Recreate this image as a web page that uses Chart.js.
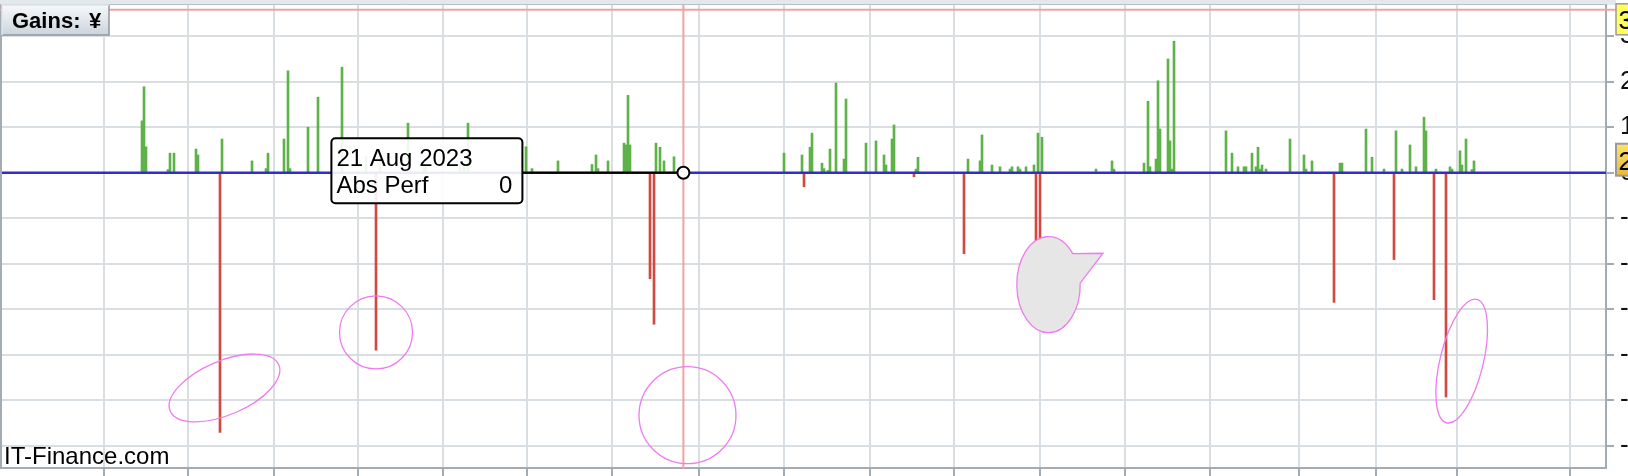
<!DOCTYPE html>
<html>
<head>
<meta charset="utf-8">
<script src="https://cdn.jsdelivr.net/npm/chart.js@4.4.1/dist/chart.umd.min.js"></script>
<style>
	html, body { margin: 0; padding: 0; background: #fff; overflow: hidden; }
	canvas { display: block; }
</style>
</head>
<body>
<canvas id="gains" width="1628" height="476"></canvas>
<script>
// Session index of each gain / loss day (0 = first session on the left edge)
var gainDays = [70, 71, 72, 83, 84, 86, 97, 98, 110, 125,
	132, 133, 141, 143, 144, 153, 158, 170, 182, 189,
	203, 211, 212, 229, 231, 233, 262, 265, 278, 295,
	297, 298, 303, 311, 312, 313, 314, 327, 329, 331,
	336, 391, 400, 404, 405, 410, 411, 413, 414, 417,
	421, 422, 432, 437, 441, 442, 445, 446, 457, 458,
	483, 489, 490, 495, 499, 504, 505, 508, 509, 512,
	516, 518, 520, 547, 555, 556, 571, 573, 574, 577,
	578, 579, 583, 584, 585, 586, 612, 615, 618, 621,
	622, 625, 627, 628, 629, 630, 632, 644, 651, 652,
	655, 669, 670, 682, 685, 691, 697, 700, 704, 707,
	711, 712, 717, 724, 725, 729, 730, 732, 735, 736];
var gainValues = [1.14, 1.89, 0.57, 0.07, 0.43, 0.43, 0.52, 0.39, 0.74, 0.26,
	0.09, 0.43, 0.74, 2.24, 0.09, 1.0, 1.66, 2.32, 0.35, 0.25,
	1.09, 0.2, 0.15, 0.2, 0.15, 1.09, 0.57, 0.09, 0.26, 0.18,
	0.39, 0.09, 0.26, 0.65, 0.61, 1.7, 0.61, 0.65, 0.56, 0.26,
	0.35, 0.43, 0.39, 0.56, 0.87, 0.21, 0.09, 0.05, 0.52, 1.97,
	0.3, 1.62, 0.65, 0.7, 0.39, 0.17, 0.74, 1.05, 0.08, 0.34,
	0.3, 0.26, 0.83, 0.17, 0.13, 0.08, 0.13, 0.13, 0.08, 0.13,
	0.17, 0.87, 0.78, 0.08, 0.26, 0.08, 0.21, 1.57, 0.13, 0.3,
	2.02, 0.96, 2.5, 0.7, 0.08, 2.89, 0.92, 0.43, 0.13, 0.13,
	0.13, 0.43, 0.13, 0.56, 0.08, 0.17, 0.08, 0.74, 0.39, 0.08,
	0.26, 0.21, 0.21, 0.96, 0.34, 0.08, 0.92, 0.08, 0.61, 0.13,
	1.22, 0.92, 0.08, 0.13, 0.08, 0.48, 0.17, 0.74, 0.07, 0.26];

var lossDays = [109, 187, 324, 326, 401, 456, 481, 517, 519, 666, 696, 716, 722];
var lossValues = [-5.71, -3.9, -2.33, -3.33, -0.31, -0.09, -1.78, -2.5, -2.3, -2.85, -1.91, -2.79, -4.93];

// Vertical grid lines (two-month boundaries) and value ticks
var gridDays = [51, 93, 136, 178, 220.5, 262.5, 305, 348.5, 391, 434, 476, 519, 561.5, 604, 648.5, 687, 727.5, 784];
var valueTicks = [-6, -5, -4, -3, -2, -1, 0, 1, 2, 3];

// Hovered session and crosshair value
var hoverDay = 340.7;
var hoverDate = '21 Aug 2023';
var hoverPerf = 0;
var crossValue = 3.58;

// Hand-drawn marks on the chart (centre in data units, radii in px)
var marks = [
	{ kind: 'ellipse', day: 111.25, value: -4.73, rx: 59, ry: 27, angle: -23 },
	{ kind: 'ellipse', day: 187, value: -3.51, rx: 36.5, ry: 36.5, angle: 0 },
	{ kind: 'ellipse', day: 342.75, value: -5.33, rx: 48.5, ry: 48.5, angle: 0 },
	{ kind: 'bubble', day: 523.25, value: -2.46, rx: 31.7, ry: 48, angle: 0 },
	{ kind: 'ellipse', day: 729.85, value: -4.14, rx: 21.6, ry: 63.5, angle: 13.7 }
];

var FONT = "'Liberation Sans', Arial, Helvetica, sans-serif";
Chart.defaults.font.family = FONT;

function toPoints(days, values) {
	var pts = [];
	for (var i = 0; i < days.length; i++) {
		pts.push({ x: days[i], y: values[i] });
	}
	return pts;
}

// no extra room for the labels: the plot runs to the canvas edges
function noPadding(scale) {
	scale.paddingTop = 0;
	scale.paddingBottom = 0;
	scale.paddingLeft = 0;
	scale.paddingRight = 0;
}

var overlay = {
	id: 'overlay',
	beforeDraw: function (chart) {
		var c = chart.ctx;
		c.save();
		c.fillStyle = '#fff';
		c.fillRect(0, 0, chart.width, chart.height);
		c.fillStyle = '#e2e8ec';
		c.fillRect(0, 0, 1616, chart.chartArea.top);
		c.restore();
	},
	afterDraw: function (chart) {
		var c = chart.ctx;
		var area = chart.chartArea;
		var xs = chart.scales.x, ys = chart.scales.y;
		var hx = xs.getPixelForValue(hoverDay);
		var zy = ys.getPixelForValue(0);
		var cy = ys.getPixelForValue(crossValue);

		c.save();
		// frame
		c.strokeStyle = '#a3abb3';
		c.lineWidth = 2;
		c.beginPath();
		c.moveTo(area.left, area.top);
		c.lineTo(area.left, area.bottom);
		c.stroke();
		c.strokeStyle = '#b8c0c7';
		c.lineWidth = 1;
		c.beginPath();
		c.moveTo(0, area.top - 0.5);
		c.lineTo(area.right, area.top - 0.5);
		c.stroke();

		// crosshair
		c.strokeStyle = '#f2a2a2';
		c.lineWidth = 2;
		c.beginPath();
		c.moveTo(hx, area.top);
		c.lineTo(hx, area.bottom + 1);
		c.moveTo(0, cy);
		c.lineTo(1616, cy);
		c.stroke();

		// tooltip box
		var bx1 = hx - 161, bx0 = bx1 - 191, by0 = zy - 34.5, by1 = by0 + 65;

		// connector + hover point
		c.strokeStyle = '#000';
		c.lineWidth = 2;
		c.beginPath();
		c.moveTo(bx1, zy);
		c.lineTo(hx - 6, zy);
		c.stroke();
		c.beginPath();
		c.arc(hx, zy, 6, 0, Math.PI * 2);
		c.fillStyle = '#fff';
		c.fill();
		c.stroke();

		c.beginPath();
		c.roundRect(bx0, by0, bx1 - bx0, by1 - by0, 4);
		c.fillStyle = 'rgba(255,255,255,0.9)';
		c.fill();
		c.strokeStyle = '#000';
		c.lineWidth = 2;
		c.stroke();
		c.fillStyle = '#000';
		c.font = '24px ' + FONT;
		c.textBaseline = 'alphabetic';
		c.textAlign = 'left';
		c.fillText(hoverDate, bx0 + 5, by0 + 28);
		c.fillText('Abs Perf', bx0 + 5, by0 + 55);
		c.textAlign = 'right';
		c.fillText(String(hoverPerf), bx1 - 10, by0 + 55);

		// marks
		c.strokeStyle = '#ef7cef';
		c.lineWidth = 1.3;
		marks.forEach(function (m) {
			var mx = xs.getPixelForValue(m.day), my = ys.getPixelForValue(m.value);
			c.beginPath();
			if (m.kind === 'bubble') {
				var t1 = Math.atan2(-31.4 / m.ry, 24.5 / m.rx);
				var t2 = Math.atan2(-1.4 / m.ry, 31.5 / m.rx);
				c.ellipse(mx, my, m.rx, m.ry, 0, t2, t1, false);
				c.lineTo(mx + 54.5, my - 31.4);
				c.closePath();
				c.fillStyle = '#e6e6e6';
				c.fill();
			} else {
				c.ellipse(mx, my, m.rx, m.ry, m.angle * Math.PI / 180, 0, Math.PI * 2);
			}
			c.stroke();
		});

		// value flags at the right edge
		c.font = '26px ' + FONT;
		c.textAlign = 'left';
		c.fillStyle = '#ffff5c';
		c.fillRect(1616, cy - 6, 14, 31);
		c.strokeStyle = '#9a9a9a';
		c.lineWidth = 1.5;
		c.strokeRect(1616, cy - 6, 14, 31);
		c.fillStyle = '#000';
		c.fillText(String(Math.floor(crossValue)), 1618.5, cy + 19);

		var g = c.createLinearGradient(0, zy - 29, 0, zy + 3);
		g.addColorStop(0, '#fbe46a');
		g.addColorStop(1, '#eab935');
		c.fillStyle = g;
		c.fillRect(1616, zy - 29, 14, 32);
		c.strokeStyle = '#9a9a9a';
		c.lineWidth = 2;
		c.strokeRect(1616, zy - 29, 14, 32);
		c.fillStyle = '#000';
		c.fillText('2', 1618.5, zy - 3);

		// "Gains: ¥" button
		var bg = c.createLinearGradient(0, 5, 0, 35);
		bg.addColorStop(0, '#f7f9fb');
		bg.addColorStop(1, '#cbd4dc');
		c.fillStyle = bg;
		c.fillRect(2, 5, 107, 30);
		c.strokeStyle = '#8f989f';
		c.lineWidth = 1.5;
		c.beginPath();
		c.moveTo(2, 35);
		c.lineTo(109, 35);
		c.lineTo(109, 5);
		c.stroke();
		c.strokeStyle = '#dfe5ea';
		c.beginPath();
		c.moveTo(2, 35);
		c.lineTo(2, 5);
		c.lineTo(109, 5);
		c.stroke();
		c.fillStyle = '#000';
		c.font = 'bold 22px ' + FONT;
		c.textAlign = 'left';
		c.fillText('Gains:', 12, 28);
		c.fillText('¥', 89, 28);

		// watermark
		c.font = '24px ' + FONT;
		c.fillText('IT-Finance.com', 4, 464);
		c.restore();
	}
};

function gridStyle(isX) {
	return {
		color: '#d9dee2',
		lineWidth: 2,
		offset: false,
		drawTicks: true,
		tickLength: 8,
		tickColor: '#a3abb3'
	};
}

var chart = new Chart(document.getElementById('gains'), {
	type: 'bar',
	data: {
		datasets: [
			{
				type: 'line',
				label: 'Abs Perf',
				data: [{ x: -0.5, y: 0 }, { x: 802, y: 0 }],
				borderColor: '#2f2fcf',
				borderWidth: 2.5,
				pointRadius: 0,
				order: 0
			},
			{
				label: 'Gains',
				data: toPoints(gainDays, gainValues),
				backgroundColor: '#5eb24a',
				barThickness: 2,
				grouped: false,
				order: 1
			},
			{
				label: 'Losses',
				data: toPoints(lossDays, lossValues),
				backgroundColor: '#cf4a42',
				barThickness: 2,
				grouped: false,
				order: 1
			}
		]
	},
	options: {
		responsive: false,
		animation: false,
		devicePixelRatio: 1,
		layout: { padding: { left: 1, top: 5, right: 0, bottom: 0 } },
		plugins: {
			legend: { display: false },
			tooltip: { enabled: false }
		},
		scales: {
			x: {
				type: 'linear',
				min: -0.5,
				max: 802,
				offset: false,
				afterBuildTicks: function (scale) {
					scale.ticks = gridDays.map(function (v) { return { value: v }; });
				},
				afterFit: function (scale) {
					scale.height = 8;
					noPadding(scale);
				},
				ticks: { display: false },
				grid: gridStyle(true),
				border: { display: true, color: '#a3abb3', width: 2 }
			},
			y: {
				position: 'right',
				min: -6.49,
				max: 3.686,
				afterBuildTicks: function (scale) {
					scale.ticks = valueTicks.map(function (v) { return { value: v }; });
				},
				afterFit: function (scale) {
					scale.width = 22;
					noPadding(scale);
				},
				ticks: {
					padding: 6,
					color: '#111',
					font: { size: 26 },
					autoSkip: false,
					callback: function (v) { return String(v); }
				},
				grid: gridStyle(false),
				border: { display: true, color: '#a3abb3', width: 2 }
			}
		}
	},
	plugins: [overlay]
});
</script>
</body>
</html>
